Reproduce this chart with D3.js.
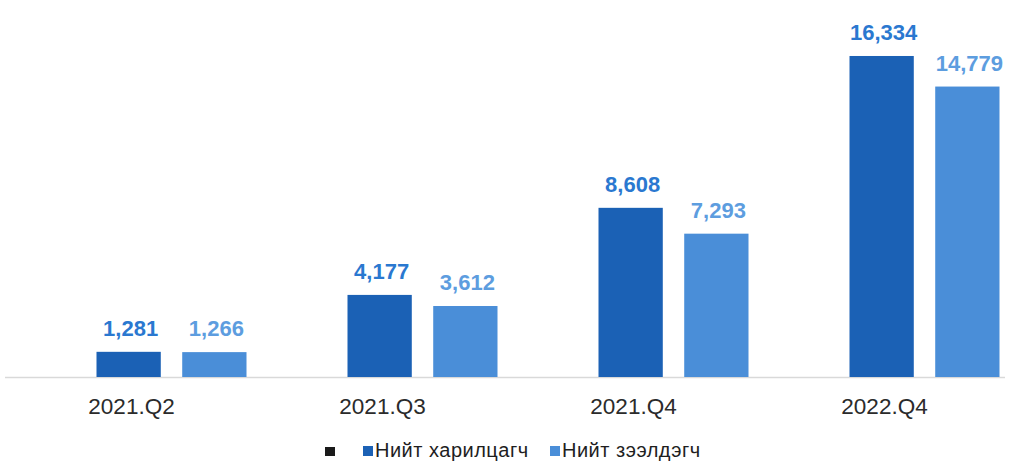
<!DOCTYPE html>
<html><head><meta charset="utf-8">
<script src="https://cdn.jsdelivr.net/npm/d3@7"></script>
<style>body{margin:0;background:#fff}svg{display:block}</style>
</head><body>
<svg id="c" width="1009" height="472"></svg>
<script>
const categories = ["2021.Q2","2021.Q3","2021.Q4","2022.Q4"];
const seriesNames = ["Нийт харилцагч","Нийт зээлдэгч"];
const customers = [1281, 4177, 8608, 16334];
const borrowers = [1266, 3612, 7293, 14779];

const svg = d3.select("#c");
const font = "Liberation Sans, Arial, sans-serif";
const barColors = ["#1b61b5","#4a8ed8"];
const labelColors = ["#2a78d0","#5d9ddf"];
const base = 377;

const x = d3.scaleBand().domain(categories).range([46, 1050]).padding(0);
const y = d3.scaleLinear().domain([0, 17000]).range([base, 42.9]);
const inner = d3.scaleBand().domain([0,1]).range([-75, 75]).paddingInner(0.25);

svg.append("line").attr("x1",5).attr("x2",1005).attr("y1",base+0.5).attr("y2",base+0.5)
  .attr("stroke","#d9d9d9").attr("stroke-width",1.5);

const data = [customers, borrowers];
data.forEach((vals, si) => {
  const g = svg.append("g");
  categories.forEach((c, i) => {
    const cx = x(c) + x.bandwidth()/2;
    const bx = cx + inner(si);
    const bw = inner.bandwidth();
    g.append("rect").attr("x", bx).attr("y", y(vals[i])).attr("width", bw)
      .attr("height", base - y(vals[i])).attr("fill", barColors[si]);
    g.append("text").attr("x", bx + bw/2 + 2).attr("y", y(vals[i]) - 16)
      .attr("text-anchor","middle").attr("font-family",font).attr("font-weight","bold")
      .attr("font-size",22).attr("fill",labelColors[si]).text(d3.format(",")(vals[i]));
  });
});

const axis = d3.axisBottom(x).tickSize(0).tickPadding(0);
const ag = svg.append("g").attr("transform",`translate(-40,${base})`).call(axis);
ag.select(".domain").remove();
ag.selectAll("text").attr("font-family",font).attr("font-size",22.5).attr("fill","#2b2b2b")
  .attr("dy",0).attr("y",37);

// legend
const lg = svg.append("g").attr("font-family",font).attr("font-size",20).attr("fill","#1e1e1e")
  .attr("letter-spacing",0.5);
lg.append("rect").attr("x",325).attr("y",447).attr("width",10).attr("height",9).attr("fill","#1a1a1a");
const legX = [363, 550];
seriesNames.forEach((n, i) => {
  lg.append("rect").attr("x",legX[i]).attr("y",446).attr("width",10).attr("height",10).attr("fill",barColors[i]);
  lg.append("text").attr("x",legX[i]+12).attr("y",457).text(n);
});
</script>
</body></html>
